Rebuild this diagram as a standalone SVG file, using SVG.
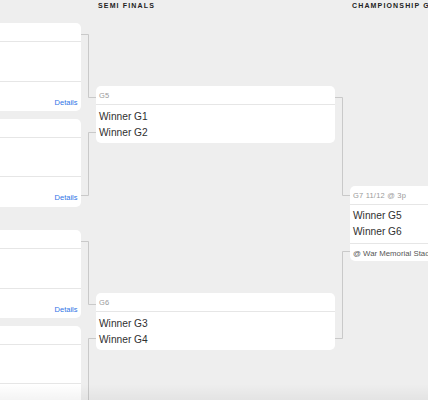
<svg xmlns="http://www.w3.org/2000/svg" width="428" height="400" viewBox="0 0 428 400">
<defs>
<style>
.card{fill:#ffffff}
.div{stroke:#e6e6e6;stroke-width:1;fill:none}
.conn{stroke:#c9c9c9;stroke-width:1;fill:none}
.title{font-family:"Liberation Sans",Arial,sans-serif;font-weight:bold;font-size:7px;letter-spacing:1.15px;fill:#222}
.hdr{font-family:"Liberation Sans",Arial,sans-serif;font-size:7.5px;fill:#9a9a9a;letter-spacing:0.2px}
.team{font-family:"Liberation Sans",Arial,sans-serif;font-size:10.2px;fill:#303030}
.loc{font-family:"Liberation Sans",Arial,sans-serif;font-size:7.8px;fill:#555}
.det{font-family:"Liberation Sans",Arial,sans-serif;font-size:7.5px;fill:#2f74e6}
</style>
<linearGradient id="fade" x1="0" y1="0" x2="0" y2="1">
<stop offset="0" stop-color="#000" stop-opacity="0"/>
<stop offset="1" stop-color="#000" stop-opacity="0.045"/>
</linearGradient>
</defs>
<rect x="0" y="0" width="428" height="400" fill="#eeeeee"/>
<text class="title" x="98" y="7.5">SEMI FINALS</text>
<text class="title" x="352" y="7.5">CHAMPIONSHIP GAME</text>

<g id="connectors">
<path class="conn" d="M81 34.5H88.5V97.5H96"/>
<path class="conn" d="M81 195.5H88.5V132.5H96"/>
<path class="conn" d="M81 241.5H88.5V304.5H96"/>
<path class="conn" d="M96 338.5H88.5V402"/>
<path class="conn" d="M335 97.5H342.5V195.5H350"/>
<path class="conn" d="M335 338.5H342.5V251.5H350"/>
</g>

<g id="g1">
<rect class="card" x="-10" y="23" width="91" height="88" rx="5"/>
<path class="div" d="M0 41.5H81M0 81.5H81"/>
<text class="det" x="77.5" y="104.5" text-anchor="end">Details</text>
</g>
<g id="g2">
<rect class="card" x="-10" y="119" width="91" height="88" rx="5"/>
<path class="div" d="M0 137.5H81M0 176.5H81"/>
<text class="det" x="77.5" y="200" text-anchor="end">Details</text>
</g>
<g id="g3">
<rect class="card" x="-10" y="230" width="91" height="88" rx="5"/>
<path class="div" d="M0 248.5H81M0 288.5H81"/>
<text class="det" x="77.5" y="311.5" text-anchor="end">Details</text>
</g>
<g id="g4">
<rect class="card" x="-10" y="326" width="91" height="88" rx="5"/>
<path class="div" d="M0 344.5H81M0 383.5H81"/>
</g>

<g id="g5">
<rect class="card" x="96" y="86" width="239" height="57" rx="5"/>
<path class="div" d="M96 104.5H335"/>
<text class="hdr" x="99" y="98">G5</text>
<text class="team" x="99" y="119.5">Winner G1</text>
<text class="team" x="99" y="135.5">Winner G2</text>
</g>
<g id="g6">
<rect class="card" x="96" y="293" width="239" height="57" rx="5"/>
<path class="div" d="M96 311.5H335"/>
<text class="hdr" x="99" y="305">G6</text>
<text class="team" x="99" y="326.5">Winner G3</text>
<text class="team" x="99" y="342.5">Winner G4</text>
</g>
<g id="g7">
<rect class="card" x="350" y="186" width="100" height="75" rx="5"/>
<path class="div" d="M350 204.5H428M350 243.5H428"/>
<text class="hdr" x="353" y="197.5">G7 11/12 @ 3p</text>
<text class="team" x="353" y="219">Winner G5</text>
<text class="team" x="353" y="235">Winner G6</text>
<text class="loc" x="353" y="256">@ War Memorial Stadium</text>
</g>
<rect x="0" y="384" width="428" height="16" fill="url(#fade)"/>
</svg>
